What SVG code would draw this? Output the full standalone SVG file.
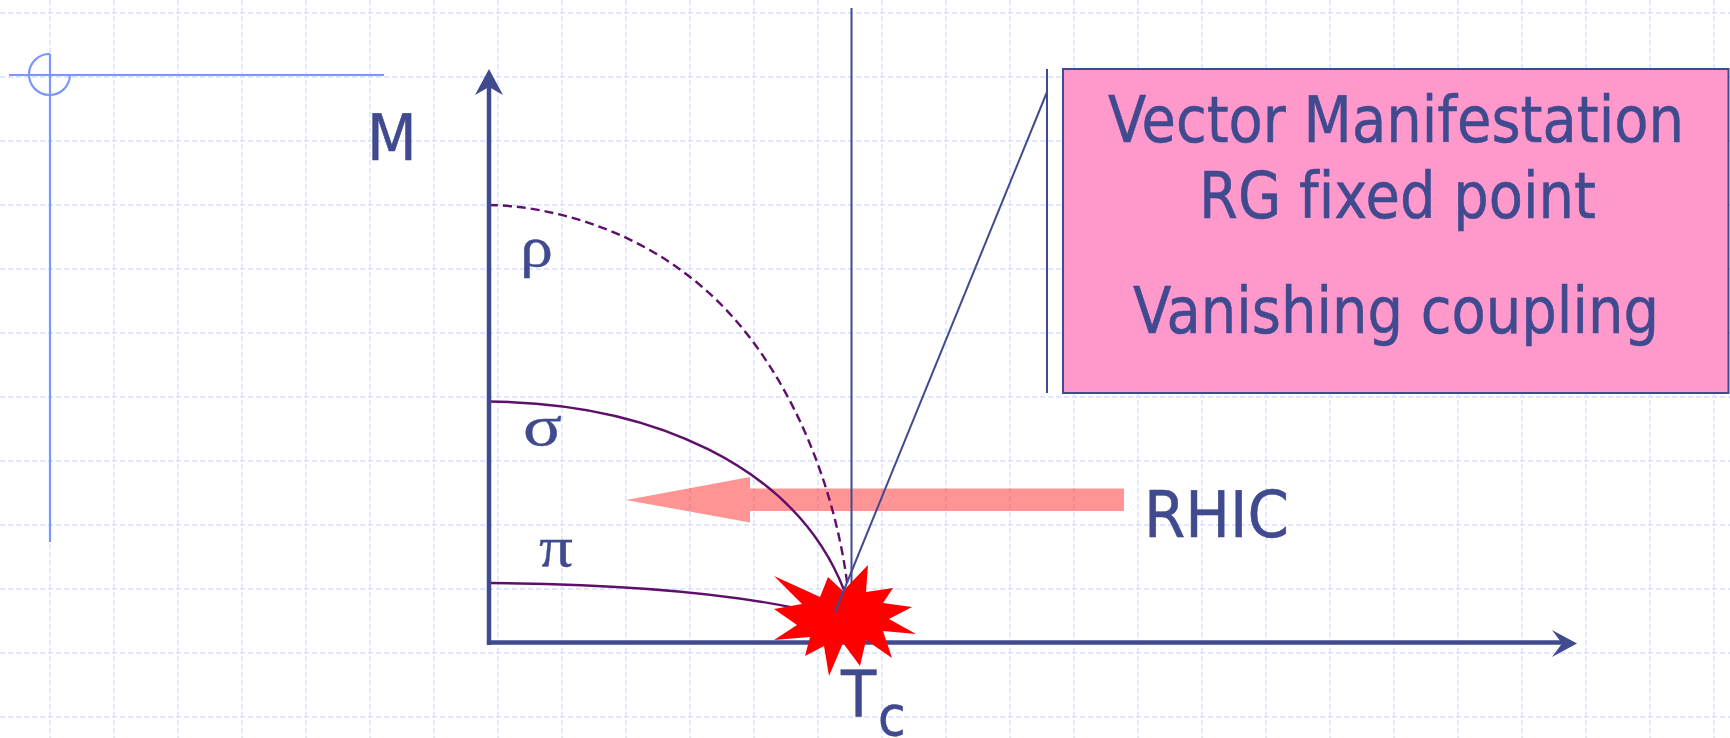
<svg xmlns="http://www.w3.org/2000/svg" width="1730" height="738" viewBox="0 0 1730 738">
<style>
.g{stroke:#d6deff;stroke-width:1.4;stroke-dasharray:5 3;fill:none}
.t{font-family:"DejaVu Sans",Verdana,sans-serif;font-stretch:condensed;font-size:64px;fill:#404a8f;stroke:#404a8f;stroke-width:.5;font-variant-ligatures:none}
.s{font-family:"Liberation Serif","DejaVu Serif",serif;fill:#404a8f;stroke:#404a8f;stroke-width:.3;font-size:58px}
.c{fill:none;stroke:#5f0f6b;stroke-width:2.4}
.l{stroke:#404a8f;fill:none}
.o{stroke:#7a98fb;stroke-width:2.2;fill:none}
</style>
<rect width="1730" height="738" fill="#fff"/>
<g id="grid" class="g">
<path d="M0 13H1730M0 77H1730M0 141H1730M0 205H1730M0 269H1730M0 333H1730M0 397H1730M0 461H1730M0 525H1730M0 589H1730M0 653H1730M0 717H1730"/>
<path d="M50 0V738M114 0V738M178 0V738M242 0V738M306 0V738M370 0V738M434 0V738M498 0V738M562 0V738M626 0V738M690 0V738M754 0V738M818 0V738M882 0V738M946 0V738M1010 0V738M1074 0V738M1138 0V738M1202 0V738M1266 0V738M1330 0V738M1394 0V738M1458 0V738M1522 0V738M1586 0V738M1650 0V738M1714 0V738"/>
</g>
<g id="origin-mark" class="o">
<path d="M9 75H384M50 54V542"/>
<path d="M50 54A20.500 20.500 0 1 0 70 75"/>
</g>
<g id="connectors">
<path id="rhic-arrow" d="M1124 488.500H750V477L626 500L750 522.500V511H1124Z" fill="#ff0000" fill-opacity=".42"/>
<path id="rho-curve" class="c" stroke-dasharray="9 5" d="M489 205C550 206 628 228 690 277C785 350 836 485 848 590"/>
<path id="sigma-curve" class="c" d="M489 401.500C650 403 795 465 844 590"/>
<path id="pi-curve" class="c" d="M489 583C620 584 720 592 800 609"/>
<path id="y-axis" class="l" stroke-width="4.500" d="M489 645V80"/>
<path id="x-axis" class="l" stroke-width="4.500" d="M487 642.500H1565"/>
<path d="M489 69L503 95L489 87L475 95Z" fill="#404a8f"/>
<path d="M1577 643.500L1552 657L1562 643.500L1552 630Z" fill="#404a8f"/>
<path id="tc-line" class="l" stroke-width="2" d="M851.500 8V590"/>
</g>
<g id="burst">
<path fill="#ff0000" d="M774 576L820 597L828 577L843 591L868 565L866 592L893 588L883 603L912 607L889 619L916 634L883 631L892 658L866 640L860 666L843 643L829 676L824 646L805 656L810 637L774 640L797 625L774 609L802 604Z"/>
</g>
<g id="callout-lines">
<path class="l" stroke-width="2" d="M1047 92L835 612"/>
<path class="l" stroke-width="2" d="M1047 69V393"/>
</g>
<g id="callout">
<rect x="1063" y="69" width="665.500" height="324" fill="#ff99cc" stroke="#404a8f" stroke-width="2"/>
<text class="t" x="1108" y="142" textLength="576" lengthAdjust="spacingAndGlyphs">Vector Manifestation</text>
<text class="t" x="1199" y="218" textLength="397" lengthAdjust="spacingAndGlyphs">RG fixed point</text>
<text class="t" x="1133" y="333" textLength="526" lengthAdjust="spacingAndGlyphs">Vanishing coupling</text>
</g>
<g id="labels">
<text class="t" x="367" y="160">M</text>
<text class="t" x="1144" y="537" textLength="145" lengthAdjust="spacingAndGlyphs">RHIC</text>
<text class="t" x="841" y="717">T</text>
<text class="t" x="878" y="735" style="font-size:56px">c</text>
<text class="s" x="520" y="266" textLength="33" lengthAdjust="spacingAndGlyphs">ρ</text>
<text class="s" x="523" y="445" textLength="39" lengthAdjust="spacingAndGlyphs">σ</text>
<text class="s" x="539" y="566" textLength="34" lengthAdjust="spacingAndGlyphs">π</text>
</g>
</svg>
